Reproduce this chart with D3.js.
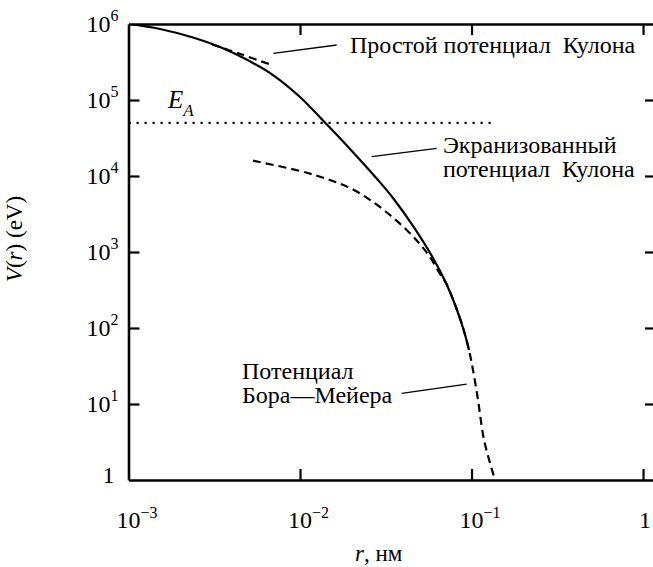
<!DOCTYPE html>
<html>
<head>
<meta charset="utf-8">
<script src="https://cdn.jsdelivr.net/npm/d3@7"></script>
<style>
  body { margin: 0; background: #fff; }
</style>
</head>
<body>
<svg id="chart" width="653" height="567"></svg>
<script>
// Axis ticks (value, decimal exponent)
const xTicks = [1e-3, 1e-2, 1e-1, 1];
const xTickExp = [-3, -2, -1, 0];
const yTicks = [1, 1e1, 1e2, 1e3, 1e4, 1e5, 1e6];
const yTickExp = [0, 1, 2, 3, 4, 5, 6];

// Screened Coulomb potential, r in nm, V in eV
const screenedR = [0.001, 0.001527, 0.002377, 0.003417, 0.004909, 0.006957, 0.01, 0.01361, 0.01956, 0.02849, 0.03485, 0.04557, 0.05961, 0.07098, 0.08229, 0.09036, 0.09665];
const screenedV = [1e6, 8.6e5, 6.64e5, 4.98e5, 3.38e5, 2.13e5, 1.095e5, 5.37e4, 2.27e4, 8.86e3, 5.13e3, 2.2e3, 834, 391, 172.5, 91.3, 51.3];

// Simple (unscreened) Coulomb potential, short segment
const coulombR = [0.00307, 0.00458, 0.00695];
const coulombV = [5.37e5, 3.97e5, 2.84e5];

// Born–Mayer potential
const bornMayerR = [0.00532, 0.01, 0.01495, 0.02037, 0.02665, 0.03346, 0.04188, 0.05006, 0.05726, 0.06549, 0.07098, 0.08229, 0.09036, 0.09665, 0.102, 0.1091, 0.1183, 0.137];
const bornMayerV = [1.59e4, 1.164e4, 8.86e3, 6.64e3, 4.55e3, 3.07e3, 1.95e3, 1.27e3, 859, 513, 391, 172.5, 91.3, 51.3, 28, 11.3, 3.36, 1];

// Threshold energy E_A
const eA = 5e4;
const eARange = [0.001, 0.134];

// Leader lines for the curve labels: [r0, V0, r1, V1]
const leaders = [
  [0.00699, 4.11e5, 0.01636, 5.29e5],
  [0.02618, 1.795e4, 0.0627, 2.31e4],
  [0.03916, 13.8, 0.0937, 18.3]
];

const FONT = "Liberation Serif";
const svg = d3.select("#chart");
const mLeft = 128.5, mRight = 656, mTop = 24, mBottom = 480;

const x = d3.scaleLog().domain([1e-3, 1.19]).range([mLeft, mRight]);
const y = d3.scaleLog().domain([1, 1e6]).range([mBottom, mTop]);

// Frame with inward ticks
const fmt = () => "";
function styleAxis(g) {
  g.selectAll(".domain").attr("stroke", "#000").attr("stroke-width", 2.6);
  g.selectAll(".tick line").attr("stroke", "#000").attr("stroke-width", 2.2);
  g.selectAll(".tick text").remove();
}
svg.append("g").attr("transform", `translate(0,${mBottom})`)
  .call(d3.axisBottom(x).tickValues(xTicks.slice(1)).tickSizeInner(-11).tickSizeOuter(0).tickFormat(fmt))
  .call(styleAxis);
svg.append("g").attr("transform", `translate(0,${mTop})`)
  .call(d3.axisTop(x).tickValues(xTicks.slice(1)).tickSizeInner(-11).tickSizeOuter(0).tickFormat(fmt))
  .call(styleAxis);
svg.append("g").attr("transform", `translate(${mLeft},0)`)
  .call(d3.axisLeft(y).tickValues(yTicks.slice(1, 6)).tickSizeInner(-11).tickSizeOuter(0).tickFormat(fmt))
  .call(styleAxis);
svg.append("g").attr("transform", `translate(${mRight},0)`)
  .call(d3.axisRight(y).tickValues(yTicks.slice(1, 6)).tickSizeInner(-11).tickSizeOuter(0).tickFormat(fmt))
  .call(styleAxis);

const txt = () => svg.append("text").style("font-family", FONT).attr("fill", "#000");

// Tick labels as powers of ten
yTicks.forEach((v, i) => {
  const t = txt().attr("text-anchor", "end").attr("font-size", 24)
    .attr("x", mLeft - 10).attr("y", y(v) + 8);
  if (yTickExp[i] === 0) {
    t.attr("x", mLeft - 14).attr("y", y(v) + 3).text("1");
  } else {
    t.append("tspan").text("10");
    t.append("tspan").attr("font-size", 16).attr("dy", -11).text(yTickExp[i]);
  }
});
xTicks.forEach((v, i) => {
  const t = txt().attr("font-size", 24).attr("y", 528);
  if (xTickExp[i] === 0) {
    t.attr("x", x(v) + 2).attr("text-anchor", "middle").text("1");
  } else {
    t.attr("x", x(v) - 12);
    t.append("tspan").text("10");
    t.append("tspan").attr("font-size", 16).attr("dy", -10).text("\u2212" + (-xTickExp[i]));
  }
});

// Axis titles
const xt = txt().attr("font-size", 23).attr("x", 355).attr("y", 561);
xt.append("tspan").attr("font-style", "italic").text("r");
xt.append("tspan").text(", нм");
const yt = txt().attr("font-size", 23).attr("text-anchor", "middle")
  .attr("transform", "translate(22,239) rotate(-90)");
yt.append("tspan").attr("font-style", "italic").text("V");
yt.append("tspan").text("(");
yt.append("tspan").attr("font-style", "italic").text("r");
yt.append("tspan").text(") (eV)");

// Curves
svg.append("clipPath").attr("id", "plot")
  .append("rect").attr("x", mLeft).attr("y", mTop).attr("width", mRight - mLeft).attr("height", mBottom - mTop);

const line = d3.line().x(d => x(d[0])).y(d => y(d[1])).curve(d3.curveCatmullRom.alpha(0.5));
const zip = (a, b) => a.map((v, i) => [v, b[i]]);

const plot = svg.append("g").attr("clip-path", "url(#plot)");

plot.append("line")
  .attr("x1", x(eARange[0])).attr("x2", x(eARange[1]))
  .attr("y1", y(eA)).attr("y2", y(eA))
  .attr("stroke", "#000").attr("stroke-width", 2.2).attr("stroke-dasharray", "2.2,5.8");

plot.append("path").datum(zip(screenedR, screenedV)).attr("d", line)
  .attr("fill", "none").attr("stroke", "#000").attr("stroke-width", 2.2);

plot.append("path").datum(zip(coulombR, coulombV)).attr("d", line)
  .attr("fill", "none").attr("stroke", "#000").attr("stroke-width", 2.2).attr("stroke-dasharray", "8,5");

plot.append("path").datum(zip(bornMayerR, bornMayerV)).attr("d", line)
  .attr("fill", "none").attr("stroke", "#000").attr("stroke-width", 2.2).attr("stroke-dasharray", "8,5");

// Leader lines and curve labels
leaders.forEach(l => {
  svg.append("line").attr("x1", x(l[0])).attr("y1", y(l[1])).attr("x2", x(l[2])).attr("y2", y(l[3]))
    .attr("stroke", "#000").attr("stroke-width", 1.3);
});

const label = (tx, ty, s) => txt().attr("font-size", 24).attr("x", tx).attr("y", ty)
  .attr("xml:space", "preserve").text(s);
label(350, 53, "Простой потенциал  Кулона");
label(443, 153, "Экранизованный");
label(443, 177, "потенциал  Кулона");
label(242, 379, "Потенциал");
label(242, 403, "Бора\u2014Мейера");

const ea = txt().attr("font-size", 25).attr("x", 168).attr("y", 108).attr("font-style", "italic");
ea.append("tspan").text("E");
ea.append("tspan").attr("font-size", 17).attr("dy", 8).text("A");
</script>
</body>
</html>
